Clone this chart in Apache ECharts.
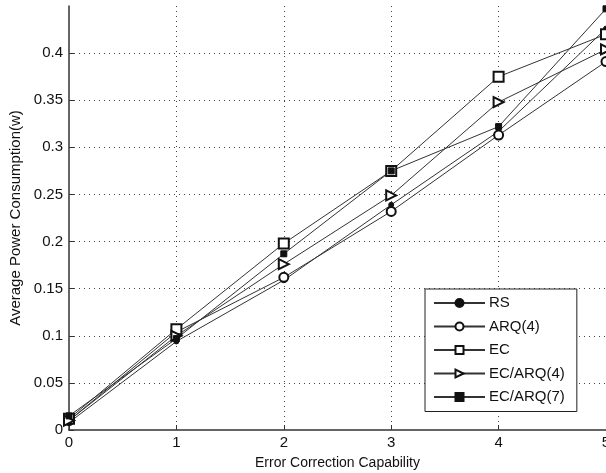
<!DOCTYPE html>
<html lang="en">

<head>
  <meta charset="UTF-8">
  <title>Average Power Consumption</title>
  <style>
    html, body {
      margin: 0;
      padding: 0;
      overflow: hidden;
      background-color: #fff;
    }

    .chart {
      width: 100vw;
      height: 100vh;
    }
  </style>
</head>

<body>
  <div class="chart"></div>
  <script src="https://cdn.jsdelivr.net/npm/echarts@6/dist/echarts.min.js"></script>
  <script>
    // error correction capability 0..5
    const capability = [0, 1, 2, 3, 4, 5]
    const rs = [0.008, 0.094, 0.159, 0.239, 0.317, 0.426]
    const arq4 = [0.010, 0.104, 0.162, 0.232, 0.313, 0.391]
    const ec = [0.012, 0.107, 0.198, 0.275, 0.375, 0.420]
    const ecArq4 = [0.010, 0.100, 0.176, 0.249, 0.348, 0.404]
    const ecArq7 = [0.015, 0.097, 0.187, 0.275, 0.322, 0.447]

    const font = 'Liberation Sans'
    const toPairs = vals => vals.map((v, i) => [capability[i], v])

    const makeSeries = (name, vals, symbol, size, extra = {}) => ({
      name,
      type: 'line',
      data: toPairs(vals),
      symbol,
      symbolSize: size,
      showAllSymbol: true,
      lineStyle: { color: '#333', width: 1 },
      itemStyle: { color: '#111', borderColor: '#111', borderWidth: 1 },
      emphasis: { disabled: true },
      ...extra
    })

    const option = {
      animation: false,
      // the original figure is cropped on the right and top, so let labels spill out
      grid: { left: 69, right: 0, top: 6, bottom: 43, outerBoundsMode: 'none' },
      legend: {
        orient: 'vertical',
        left: 425,
        top: 289,
        backgroundColor: '#fff',
        borderColor: '#222',
        borderWidth: 1,
        padding: [6.5, 12, 7, 8],
        itemGap: 8.5,
        itemWidth: 51,
        itemHeight: 10,
        textStyle: { fontFamily: font, fontSize: 15, color: '#111', padding: [0, 0, 0, -1] },
        data: ['RS', 'ARQ(4)', 'EC', 'EC/ARQ(4)', 'EC/ARQ(7)']
      },
      xAxis: {
        type: 'value',
        min: 0,
        max: 5,
        interval: 1,
        name: 'Error Correction Capability',
        nameLocation: 'middle',
        nameGap: 26,
        nameTextStyle: { fontFamily: font, fontSize: 14, color: '#111' },
        axisLine: { lineStyle: { color: '#333', width: 1.5 } },
        axisTick: { inside: true, length: 5, lineStyle: { color: '#333' } },
        axisLabel: { fontFamily: font, fontSize: 15, color: '#111', margin: 5 },
        splitLine: {
          show: true,
          showMinLine: false,
          lineStyle: { color: '#444', type: [1, 4], width: 1 }
        }
      },
      yAxis: {
        type: 'value',
        min: 0,
        max: 0.45,
        interval: 0.05,
        name: 'Average Power Consumption(w)',
        nameLocation: 'middle',
        nameGap: 46,
        nameTextStyle: { fontFamily: font, fontSize: 15, color: '#111' },
        axisLine: { show: true, lineStyle: { color: '#333', width: 1.5 } },
        axisTick: { show: true, inside: true, length: 5, lineStyle: { color: '#333' } },
        axisLabel: { fontFamily: font, fontSize: 15, color: '#111', margin: 6, showMaxLabel: false },
        splitLine: {
          show: true,
          showMinLine: false,
          showMaxLine: false,
          lineStyle: { color: '#444', type: [1, 4], width: 1 }
        }
      },
      series: [
        makeSeries('RS', rs, 'circle', 5),
        makeSeries('ARQ(4)', arq4, 'emptyCircle', 9),
        makeSeries('EC', ec, 'emptyRect', 10),
        makeSeries('EC/ARQ(4)', ecArq4, 'emptyTriangle', 10, { symbolRotate: -90 }),
        makeSeries('EC/ARQ(7)', ecArq7, 'rect', 6)
      ]
    }

    const myChart = echarts.init(document.querySelector('.chart'))
    myChart.setOption(option)
  </script>
</body>

</html>
